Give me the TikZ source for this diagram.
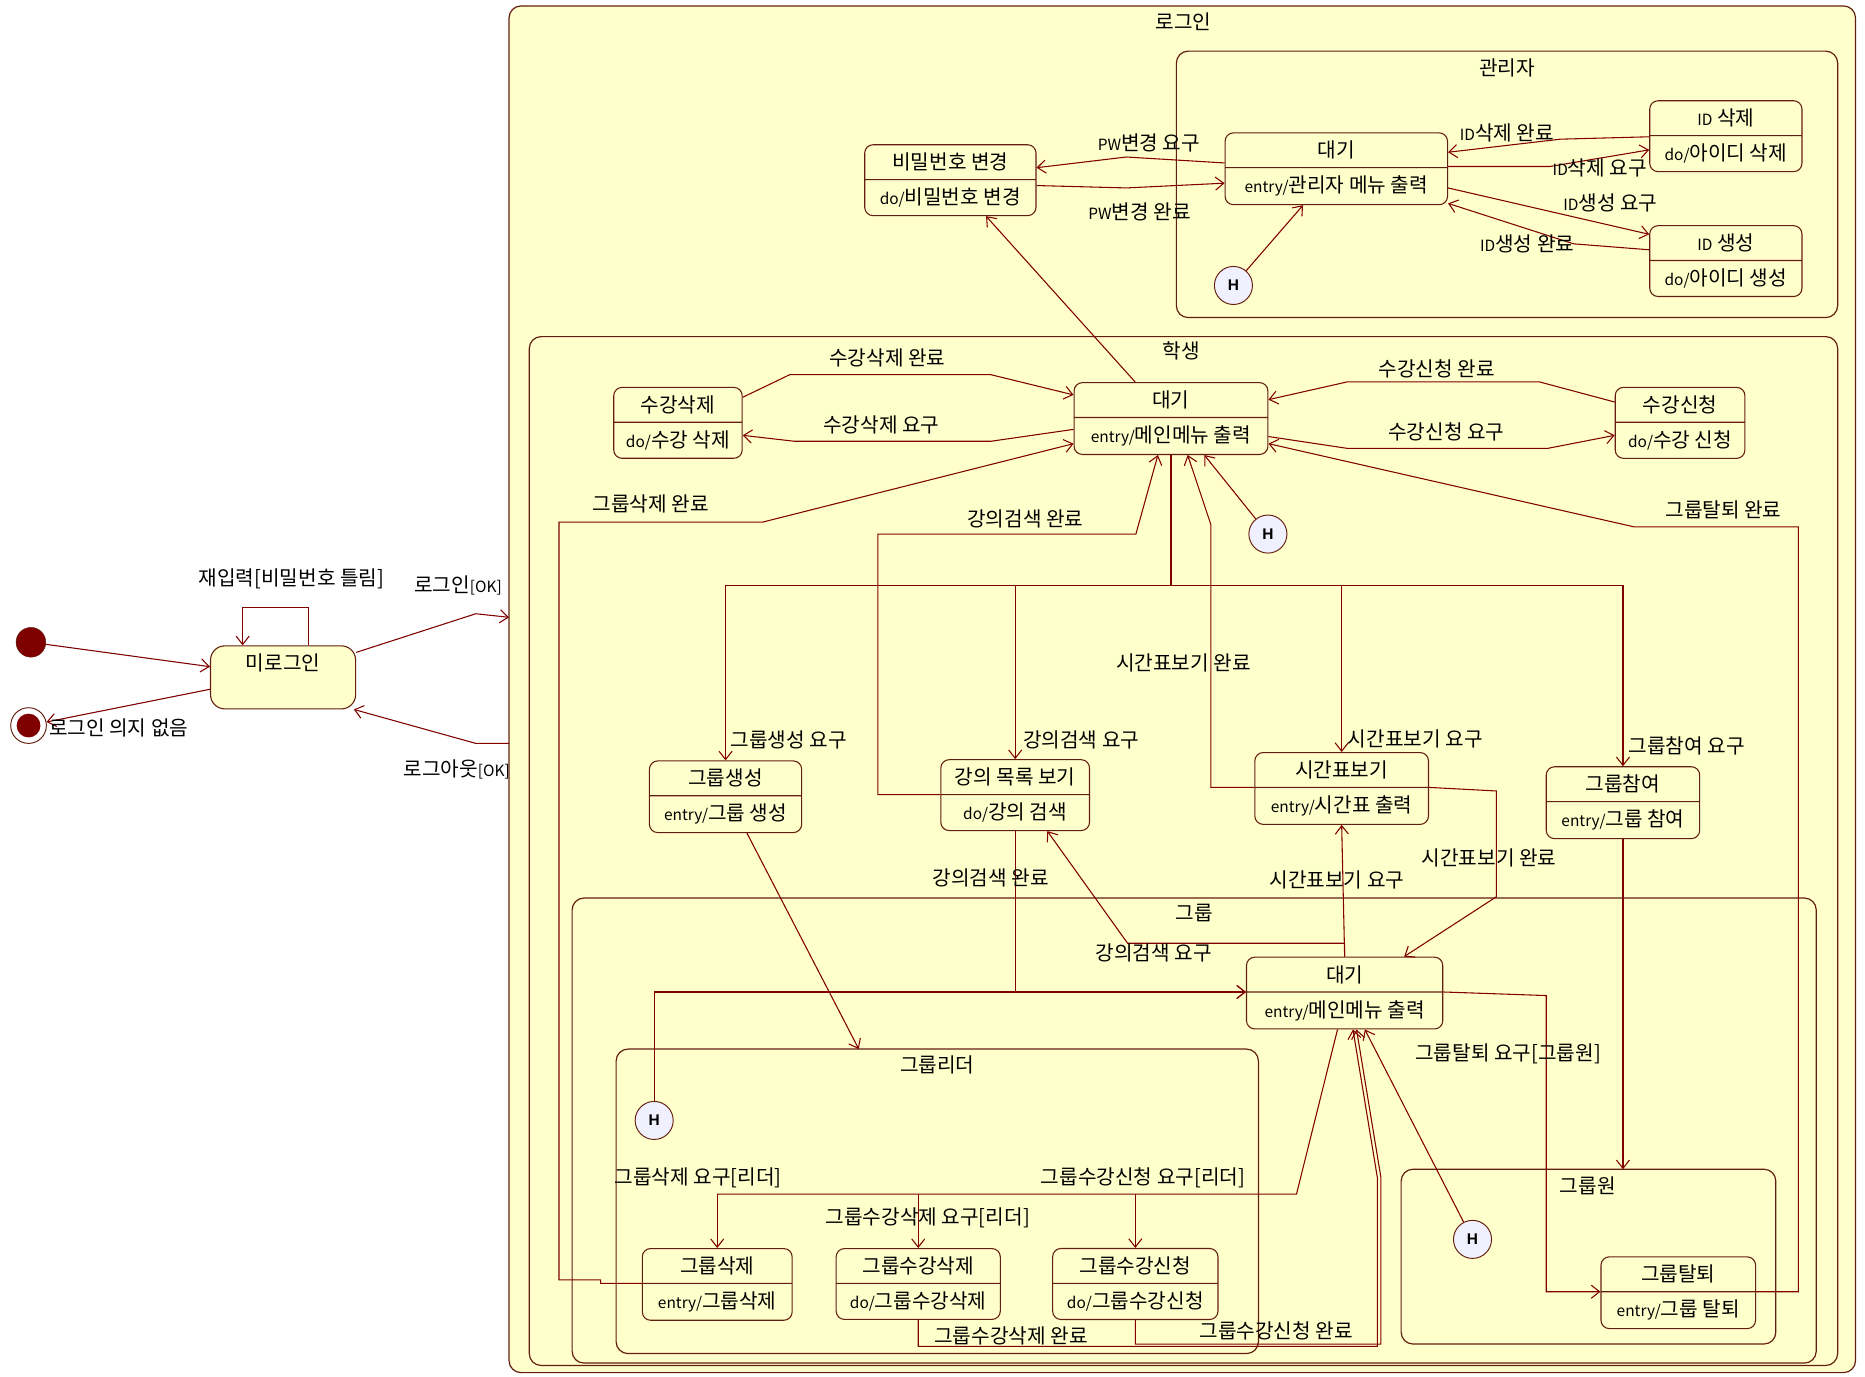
\documentclass[tikz,border=0pt]{standalone}
\usepackage{fontspec}
\setmainfont{Noto Sans CJK KR}
\newfontfamily\hfont{Liberation Sans}
\usetikzlibrary{arrows.meta,shapes.multipart}
\definecolor{yel}{RGB}{255,255,204}
\definecolor{brn}{RGB}{128,0,0}
\definecolor{bd}{RGB}{100,30,16}
\newcommand\kr{\fontsize{17}{20}\selectfont}
\newcommand\latn{\fontsize{13}{15}\selectfont}
\AtBeginDocument{\kr}
\begin{document}
\begin{tikzpicture}[x=1pt, y=-1pt,
    cont/.style={draw=bd, line width=1pt, rounded corners=10pt, anchor=north west, inner sep=0pt, outer sep=0pt},
    st/.style={rectangle split, rectangle split parts=2, draw=bd, fill=yel, line width=0.9pt, rounded corners=7pt, inner xsep=3pt, inner ysep=6.5pt, font=\kr, anchor=text split},
    st0/.style={draw=bd, fill=yel, line width=0.9pt, rounded corners=12pt},
    hist/.style={circle, draw=bd, fill=white!94!blue, line width=0.8pt, minimum size=32pt, inner sep=0pt, font=\hfont\bfseries\fontsize{13}{15}\selectfont},
    ini/.style={circle, fill=brn, draw=bd, minimum size=25pt, inner sep=0pt},
    fin/.style={circle, draw=bd, line width=0.8pt, minimum size=30pt, inner sep=0pt, path picture={\fill[brn] (path picture bounding box.center) circle (10pt);}},
    tr/.style={draw=brn, line width=0.9pt, -{Straight Barb[length=7pt,width=11pt]}},
    wire/.style={draw=brn, line width=0.9pt},
    lbl/.style={font=\kr, inner sep=1pt}
]
\path[use as bounding box, fill=white] (0,0) rectangle (1568,1157);

\node[cont, fill=yel, minimum width=1132pt, minimum height=1149pt] (login) at (428,5) {};
\node[cont, minimum width=556pt, minimum height=224pt] (admin) at (989,43) {};
\node[cont, minimum width=1100pt, minimum height=865pt] (stud) at (445,283) {};
\node[cont, minimum width=1046pt, minimum height=391pt] (grp) at (481,755) {};
\node[cont, minimum width=540pt, minimum height=256pt] (lead) at (518,882) {};
\node[cont, minimum width=315pt, minimum height=147pt] (memb) at (1178,983) {};
\node[lbl] (tlogin) at (995,18) {로그인};
\node[lbl] (tadmin) at (1267,57) {관리자};
\node[lbl] (tstud) at (993,295) {학생};
\node[lbl] (tgrp) at (1004,768) {그룹};
\node[lbl] (tlead) at (788,895) {그룹리더};
\node[lbl] (tmemb) at (1335,997) {그룹원};

\node[ini] (ini) at (26,540) {};
\node[fin] (fin) at (24,610) {};
\node[st0, minimum width=122pt, minimum height=53pt] (nolog) at (238,569.5) {};
\node[lbl] (tnolog) at (238,557) {미로그인};

\node[st, minimum width=187pt] (awt) at (1123.5,141) {대기\nodepart{two}{\latn entry/}관리자 메뉴 출력};
\node[st, minimum width=144pt] (pw) at (799,151) {비밀번호 변경\nodepart{two}{\latn do/}비밀번호 변경};
\node[st, minimum width=128pt] (idd) at (1451,114) {{\latn ID} 삭제\nodepart{two}{\latn do/}아이디 삭제};
\node[st, minimum width=128pt] (idc) at (1451,219) {{\latn ID} 생성\nodepart{two}{\latn do/}아이디 생성};
\node[hist] (ha) at (1037,240) {H};

\node[st, minimum width=163pt] (swt) at (984.5,351) {대기\nodepart{two}{\latn entry/}메인메뉴 출력};
\node[st, minimum width=108pt] (sdel) at (570,355) {수강삭제\nodepart{two}{\latn do/}수강 삭제};
\node[st, minimum width=109pt] (sadd) at (1412.5,355) {수강신청\nodepart{two}{\latn do/}수강 신청};
\node[hist] (hs) at (1066,449) {H};
\node[st, minimum width=128pt] (gmk) at (610,669) {그룹생성\nodepart{two}{\latn entry/}그룹 생성};
\node[st, minimum width=125pt] (lec) at (853.5,668) {강의 목록 보기\nodepart{two}{\latn do/}강의 검색};
\node[st, minimum width=146pt] (tt) at (1128,662) {시간표보기\nodepart{two}{\latn entry/}시간표 출력};
\node[st, minimum width=129pt] (gjn) at (1364.5,674) {그룹참여\nodepart{two}{\latn entry/}그룹 참여};

\node[st, minimum width=165pt] (gwt) at (1130.5,834) {대기\nodepart{two}{\latn entry/}메인메뉴 출력};
\node[hist] (hg) at (550,942) {H};
\node[hist] (hm) at (1238,1042) {H};
\node[st, minimum width=126pt] (gdel) at (603,1079) {그룹삭제\nodepart{two}{\latn entry/}그룹삭제};
\node[st, minimum width=138pt] (gsd) at (772,1079) {그룹수강삭제\nodepart{two}{\latn do/}그룹수강삭제};
\node[st, minimum width=139pt] (gsa) at (954.5,1079) {그룹수강신청\nodepart{two}{\latn do/}그룹수강신청};
\node[st, minimum width=130pt] (gqt) at (1411,1086) {그룹탈퇴\nodepart{two}{\latn entry/}그룹 탈퇴};

\draw[tr] (ini) -- ([yshift=9pt]nolog.west);
\draw[tr] ([yshift=-10pt]nolog.west) -- (fin);
\draw[tr] ([xshift=21pt]nolog.north) -- ++(0,-32) -| ([xshift=-34pt]nolog.north);
\draw[tr] ([yshift=21pt]nolog.east) -- (400,516) -- (login.west |- 0,519);
\draw[tr] (login.west |- 0,625) -- (400,625) -- ([xshift=-2pt]nolog.south east);

\draw[tr] ([yshift=4pt]awt.text split west) -- (947,132) -- ([yshift=10pt]pw.text split east);
\draw[tr] ([yshift=-5pt]pw.text split east) -- (947,158) -- ([yshift=-13pt]awt.text split west);
\draw[tr] (ha) -- ([xshift=-28pt]awt.south);
\draw[tr] ([yshift=-1pt]idd.text split west) -- (1312,117) -- ([yshift=13pt]awt.text split east);
\draw[tr] ([yshift=1pt]awt.text split east) -- (1303,140) -- ([yshift=-12pt]idd.text split west);
\draw[tr] ([yshift=-17pt]awt.text split east) -- ([yshift=22pt]idc.text split west);
\draw[tr] ([yshift=9pt]idc.text split west) -- (1323,205) -- ([yshift=-30pt]awt.text split east);
\draw[tr] ([xshift=-30pt]swt.north) -- ([xshift=30pt]pw.south);

\draw[tr] ([yshift=21pt]sdel.text split east) -- (664,315) -- (833,315) -- ([yshift=19pt]swt.text split west);
\draw[tr] ([yshift=-10pt]swt.text split west) -- (833,371) -- (668,371) -- ([yshift=-11pt]sdel.text split east);
\draw[tr] ([yshift=17pt]sadd.text split west) -- (1294,321) -- (1133,321) -- ([yshift=15pt]swt.text split east);
\draw[tr] ([yshift=-16pt]swt.text split east) -- (1133,377) -- (1301,377) -- ([yshift=-11pt]sadd.text split west);
\draw[tr] (gdel.text split west) -- (505,1079) -- (505,1076) -- (470,1076) -- (470,439) -- (641,439) -- ([yshift=-22pt]swt.text split west);
\draw[tr] (gqt.text split east) -- (1512,1086) -- (1512,443) -- (1374,443) -- ([yshift=-22pt]swt.text split east);
\draw[tr] (hs) -- ([xshift=28pt]swt.south);
\draw[tr] (lec.text split west) -- (738,668) -- (738,449) -- (955,449) -- ([xshift=-11pt]swt.south);
\draw[tr] (tt.text split west) -- (1018,662) -- (1018,441) -- ([xshift=14pt]swt.south);
\draw[wire] (swt.south) -- (swt.south |- 0,492) coordinate (fk);
\draw[wire] (gmk.north |- fk) -- (gjn.north |- fk);
\draw[tr] (gmk.north |- fk) -- (gmk.north);
\draw[tr] (lec.north |- fk) -- (lec.north);
\draw[tr] (tt.north |- fk) -- (tt.north);
\draw[tr] (gjn.north |- fk) -- (gjn.north);

\draw[tr] ([xshift=18pt]gmk.south) -- (722,0 |- lead.north);
\draw[tr] (gjn.south) -- (gjn.south |- memb.north);
\draw[tr] (lec.south) |- (gwt.text split west);
\draw[tr] (hg) |- (gwt.text split west);
\draw[tr] (gwt.north) -- (tt.south);
\draw[tr] (gwt.north) -- (gwt.north |- 0,793) -- (948,793) -- ([xshift=27pt]lec.south);
\draw[tr] (tt.text split east) -- (1258,665) -- (1258,754) -- ([xshift=50pt]gwt.north);
\draw[tr] (gwt.text split east) -- (1300,837) -- (1300,1086) -- (gqt.text split west);
\draw[tr] (hm) -- ([xshift=17pt]gwt.south);
\draw[wire] ([xshift=-6pt]gwt.south) -- (1090,1004) -- (gdel.north |- 0,1004);
\draw[tr] (gdel.north |- 0,1004) -- (gdel.north);
\draw[tr] (gsd.north |- 0,1004) -- (gsd.north);
\draw[tr] (gsa.north |- 0,1004) -- (gsa.north);
\draw[tr] (gsd.south) -- (gsd.south |- 0,1132) -- (1158,1132) -- (1158,990) -- ([xshift=7pt]gwt.south);
\draw[tr] (gsa.south) -- (gsa.south |- 0,1130) -- (1161,1130) -- (1161,990) -- ([xshift=10pt]gwt.south);

\node[lbl] (l1) at (245,487) {재입력[비밀번호 틀림]};
\node[lbl] (l2) at (385,492) {로그인{\latn[OK]}};
\node[lbl, anchor=west] (l3) at (40,612) {로그인 의지 없음};
\node[lbl] (l4) at (384,647) {로그아웃{\latn[OK]}};
\node[lbl] (l5) at (966,120) {{\latn PW}변경 요구};
\node[lbl] (l6) at (958,178) {{\latn PW}변경 완료};
\node[lbl] (l7) at (1267,112) {{\latn ID}삭제 완료};
\node[lbl] (l8) at (1345,141) {{\latn ID}삭제 요구};
\node[lbl] (l9) at (1354,171) {{\latn ID}생성 요구};
\node[lbl] (l10) at (1284,205) {{\latn ID}생성 완료};
\node[lbl] (l11) at (746,301) {수강삭제 완료};
\node[lbl] (l12) at (741,357) {수강삭제 요구};
\node[lbl] (l13) at (1208,310) {수강신청 완료};
\node[lbl] (l14) at (1216,363) {수강신청 요구};
\node[lbl] (l15) at (547,424) {그룹삭제 완료};
\node[lbl] (l16) at (1449,429) {그룹탈퇴 완료};
\node[lbl] (l17) at (862,436) {강의검색 완료};
\node[lbl] (l18) at (995,557) {시간표보기 완료};
\node[lbl, anchor=west] (l19) at (613,622) {그룹생성 요구};
\node[lbl, anchor=west] (l20) at (859,622) {강의검색 요구};
\node[lbl, anchor=west] (l21) at (1132,621) {시간표보기 요구};
\node[lbl, anchor=west] (l22) at (1368,627) {그룹참여 요구};
\node[lbl] (l23) at (833,738) {강의검색 완료};
\node[lbl] (l24) at (1124,740) {시간표보기 요구};
\node[lbl] (l25) at (1252,721) {시간표보기 완료};
\node[lbl] (l26) at (970,801) {강의검색 요구};
\node[lbl] (l27) at (1268,886) {그룹탈퇴 요구[그룹원]};
\node[lbl] (l28) at (587,990) {그룹삭제 요구[리더]};
\node[lbl] (l29) at (961,990) {그룹수강신청 요구[리더]};
\node[lbl] (l30) at (780,1024) {그룹수강삭제 요구[리더]};
\node[lbl] (l31) at (850,1123) {그룹수강삭제 완료};
\node[lbl] (l32) at (1073,1119) {그룹수강신청 완료};
\end{tikzpicture}
\end{document}
